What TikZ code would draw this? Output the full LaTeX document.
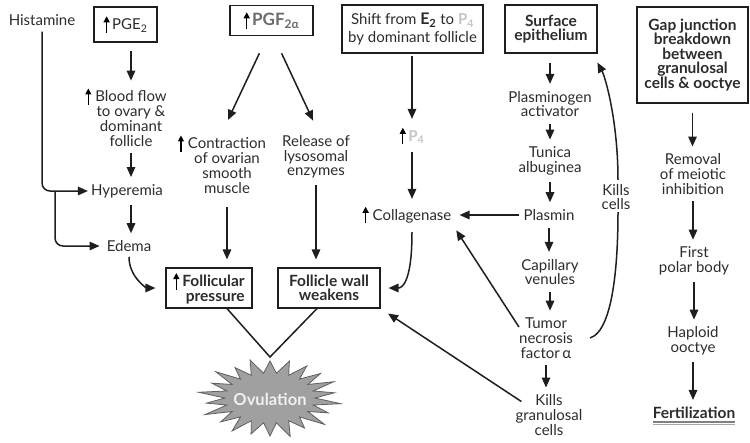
\documentclass[tikz,border=0pt]{standalone}
\usepackage{fontspec}
\setmainfont{Lato}
\usetikzlibrary{arrows.meta,calc}
\definecolor{txt}{HTML}{2C2C2C}
\definecolor{ln}{HTML}{1E1E1E}
\definecolor{pgfg}{HTML}{6A6A6A}
\definecolor{pfour}{HTML}{C4C4C4}
\definecolor{starfill}{HTML}{A0A0A0}
\definecolor{staredge}{HTML}{606060}
\newcommand{\upar}{\tikz[baseline=0pt]{\draw[line width=1.3pt,draw=black,-{Triangle[length=6pt,width=6pt]}] (0pt,-3pt)--(0pt,13.5pt);}}
\begin{document}
\begin{tikzpicture}[x=1pt,y=-1pt,
  every node/.style={font=\fontsize{15}{14.7}\selectfont, text=txt},
  lbl/.style={align=center, inner sep=2pt},
  bf/.style={font=\fontsize{15.5}{14.5}\selectfont\bfseries},
  boxn/.style={draw=ln, line width=1.1pt, align=center, inner sep=0pt},
  arr/.style={draw=ln, line width=1.5pt, -{Triangle[length=10pt,width=8.5pt]}, shorten <=5pt, shorten >=5pt},
  con/.style={draw=ln, line width=1.5pt},
]
\useasboundingbox (0,0) rectangle (750,442);
% left column
\node[lbl] (hist) at (42,20) {Histamine};
\node[boxn, minimum width=63pt, minimum height=35pt] (pge) at (125.5,24.5) {\upar\,PGE\textsubscript{2}};
\node[lbl] (blood) at (131,117) {\llap{\upar\hspace{4pt}}Blood flow\\to ovary \&\\dominant\\follicle};
\node[lbl] (hyper) at (127,191) {Hyperemia};
\node[lbl] (edema) at (129,246) {Edema};
\node[boxn, bf, align=right, minimum width=86pt, minimum height=40pt] (fp) at (209,288) {\upar\hspace{3pt}Follicular\\pressure};
\node[boxn, bf, minimum width=102pt, minimum height=40pt] (fw) at (329,288) {Follicle wall\\weakens};
% pgf column
\node[boxn, minimum width=83pt, minimum height=30pt] (pgf) at (271.5,20.5) {\upar\,{\fontsize{17}{17}\selectfont\bfseries\color{pgfg}PGF\textsubscript{2α}}};
\node[lbl] (contr) at (227,164) {\llap{\upar\hspace{4pt}}Contraction\\of ovarian\\smooth\\muscle};
\node[lbl] (release) at (316,157) {Release of\\lysosomal\\enzymes};
% shift column
\node[boxn, font=\fontsize{15}{17.5}\selectfont, minimum width=141pt, minimum height=48pt] (shift) at (412.5,29) {Shift from {\bfseries\fontsize{16}{17.5}\selectfont E\textsubscript{2}} to {\bfseries\color{pfour}P\textsubscript{4}}\\by dominant follicle};
\node[lbl] (p4) at (412,136) {\upar\,{\fontsize{15}{15}\selectfont\bfseries\color{pfour}P\textsubscript{4}}};
\node[lbl] (coll) at (412,215) {\llap{\upar\hspace{4pt}}Collagenase};
% surface column
\node[boxn, bf, minimum width=92pt, minimum height=48pt] (surf) at (551,29) {Surface\\epithelium};
\node[lbl] (plasm) at (550,104) {Plasminogen\\activator};
\node[lbl] (tunica) at (550,161) {Tunica\\albuginea};
\node[lbl] (plasmin) at (549,215) {Plasmin};
\node[lbl] (cap) at (550,272) {Capillary\\venules};
\node[lbl] (tnf) at (546,338) {Tumor\\necrosis\\factor\,α};
\node[lbl] (kills) at (549,415) {Kills\\granulosal\\cells};
\node[lbl] (kc) at (616,197) {Kills\\cells};
% right column
\node[boxn, bf, minimum width=111pt, minimum height=96pt] (gap) at (692.5,55) {Gap junction\\breakdown\\between\\granulosal\\cells \& ooctye};
\node[lbl] (removal) at (693,174) {Removal\\of meiotic\\inhibition};
\node[lbl] (first) at (694,261) {First\\polar body};
\node[lbl] (haploid) at (693,341) {Haploid\\ooctye};
\node[lbl, bf] (fert) at (694,413) {Fertilization};
\draw[gray, line width=1.2pt] ($(fert.south west)+(2,1)$) -- ($(fert.south east)+(-2,1)$);
\draw[gray!70, line width=1.2pt] ($(fert.south west)+(2,3.5)$) -- ($(fert.south east)+(-2,3.5)$);
% starburst
\path[fill=starfill, draw=staredge, line width=0.8pt] plot[samples=44, domain=0:43, variable=\t]
  ({270 + ifthenelse(mod(round(\t),2)==0, 68*(1+0.06*sin(\t*97)), 45)*cos(\t*360/44+90)},
   {398 + ifthenelse(mod(round(\t),2)==0, 38*(1+0.06*sin(\t*97)), 25)*sin(\t*360/44+90)}) -- cycle;
\node[font=\fontsize{16.5}{16}\selectfont\bfseries, text=white!88!gray] (ov) at (270,399) {Ovulation};
\coordinate (vt) at (270,357);
% connectors left
\draw[arr, shorten <=8pt] (pge.south -| blood.north) -- (blood.north);
\draw[arr] (blood.south) -- (blood.south |- hyper.north);
\draw[arr] (blood.south |- hyper.south) -- (blood.south |- edema.north);
\draw[arr, rounded corners=8pt, shorten <=4pt, shorten >=1pt] (hist.south) |- (hyper.west);
\coordinate (br) at ($(hist.south |- hyper.west)+(13,0)$);
\draw[arr, rounded corners=8pt, shorten <=0pt, shorten >=5pt] (br) |- (edema.west);
\draw[arr, shorten <=3pt, shorten >=10pt] (edema.south) .. controls +(0,24) and +(-18,0) .. (fp.west);
% pgf connectors
\draw[arr, shorten <=19pt, shorten >=14pt] ($(pgf.south)+(-4,0)$) -- ($(contr.north)+(-5,0)$);
\draw[arr, shorten <=19pt, shorten >=14pt] ($(pgf.south)+(2,0)$) -- ($(release.north)+(3,0)$);
\draw[arr, shorten <=12pt, shorten >=8pt] (contr.south) -- (contr.south |- fp.north);
\draw[arr, shorten <=4pt, shorten >=8pt] (release.south) -- (release.south |- fw.north);
\draw[con] ($(fp.south)+(18,0)$) -- (vt) -- ($(fw.south)+(-12,0)$);
% shift connectors
\draw[arr, shorten <=2pt, shorten >=6pt] (shift.south -| p4.north) -- (p4.north);
\draw[arr] (p4.south) -- (p4.south |- coll.north);
\draw[arr, shorten <=2pt, shorten >=6pt] (plasmin.west) -- (coll.east);
\draw[arr, shorten <=6pt, shorten >=8pt] (coll.south) .. controls +(0,60) and +(20,0) .. (fw.east);
\draw[arr, shorten <=0pt, shorten >=5pt] ($(tnf.west)+(2,-11)$) -- (coll.south east);
\draw[arr, shorten <=0pt, shorten >=9pt] ($(kills.north west)+(8,9)$) -- (fw.south east);
% surface connectors
\draw[arr, shorten <=9pt] (surf.south -| plasm.north) -- (plasm.north);
\draw[arr] (plasm.south) -- (plasm.south |- tunica.north);
\draw[arr] (tunica.south) -- (tunica.south |- plasmin.north);
\draw[arr] (plasmin.south) -- (plasmin.south |- cap.north);
\draw[arr] (cap.south) -- (cap.south |- tnf.north);
\draw[arr] (tnf.south) -- (tnf.south |- kills.north);
\draw[con] ($(tnf.east)+(15,0)$) .. controls +(25,-8) and +(0,40) .. ($(kc.south)+(2,0)$);
\draw[arr, shorten <=2pt, shorten >=8pt] ($(kc.north)+(2,0)$) .. controls +(0,-60) and +(12,22) .. ($(surf.south east)+(-4,2)$);
% right connectors
\draw[arr, shorten <=9pt] (gap.south) -- (gap.south |- removal.north);
\draw[arr] (removal.south) -- (removal.south |- first.north);
\draw[arr] (first.south) -- (first.south |- haploid.north);
\draw[arr] (haploid.south) -- (haploid.south |- fert.north);
\end{tikzpicture}
\end{document}
